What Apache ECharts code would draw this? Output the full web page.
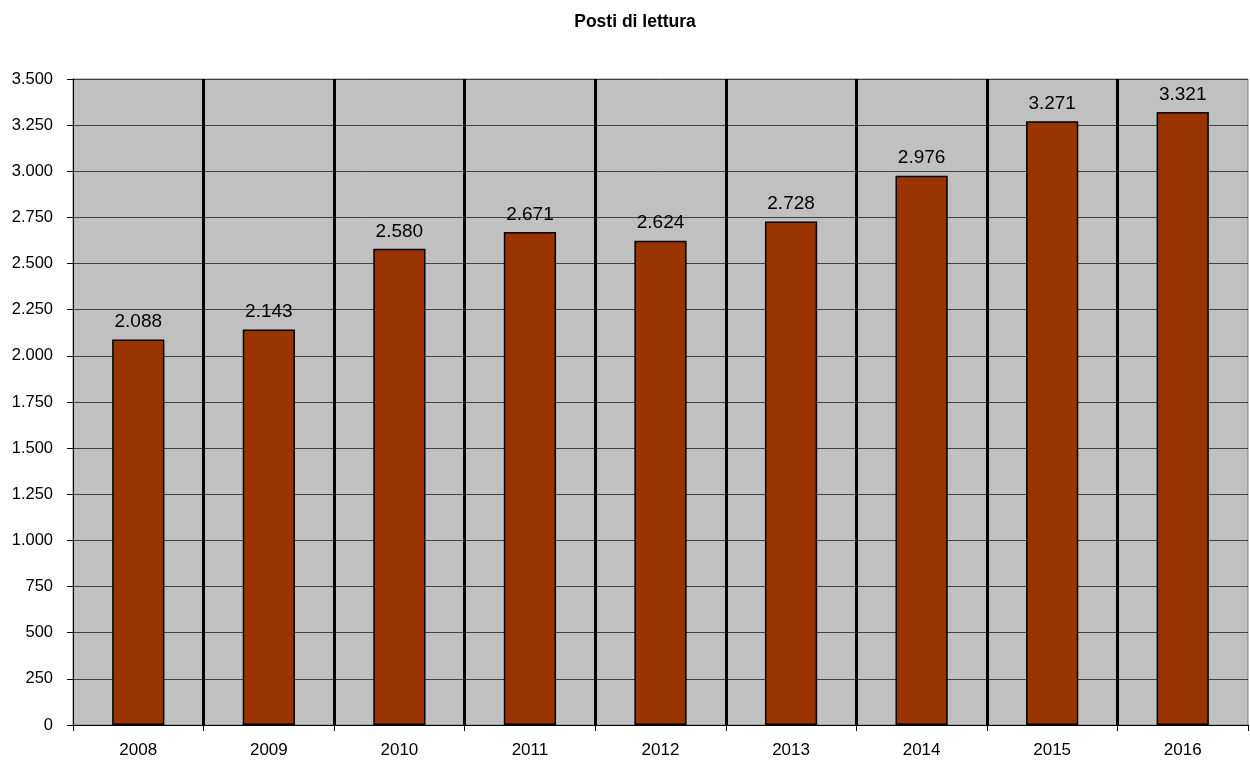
<!DOCTYPE html>
<html><head><meta charset="utf-8">
<script src="https://cdn.jsdelivr.net/npm/echarts@6/dist/echarts.min.js"></script>
<style>html,body{margin:0;padding:0;background:#fff}#c{width:1250px;height:760px}</style>
</head><body><div id="c"></div>
<script>
const categories = ['2008','2009','2010','2011','2012','2013','2014','2015','2016'];
const values = [2088, 2143, 2580, 2671, 2624, 2728, 2976, 3271, 3321];
const titleText = 'Posti di lettura';

function fmt(v){ return String(v).replace(/\B(?=(\d{3})+(?!\d))/g, '.'); }

const chart = echarts.init(document.getElementById('c'));
chart.setOption({
  animation: false,
  backgroundColor: '#ffffff',
  title: { text: titleText, left: 630, top: 8, textAlign: 'center',
    textStyle: { fontFamily: 'Liberation Sans, Arial', fontSize: 17.5, fontWeight: 'bold', color: '#000' } },
  grid: { left: 73, right: 2, top: 79, bottom: 35, show: true, backgroundColor: '#c0c0c0', borderColor: '#808080', borderWidth: 1 },
  xAxis: {
    type: 'category', data: categories,
    axisLine: { lineStyle: { color: '#000', width: 1 } },
    axisTick: { show: true, length: 6, lineStyle: { color: '#000' } },
    axisLabel: { fontFamily: 'Liberation Sans, Arial', fontSize: 17, color: '#000', margin: 17 },
    splitLine: { show: true, showMinLine: false, showMaxLine: false, lineStyle: { color: '#000', width: 3 } }
  },
  yAxis: {
    type: 'value', min: 0, max: 3500, interval: 250,
    axisLine: { show: true, lineStyle: { color: '#000', width: 1 } },
    axisTick: { show: true, length: 6, lineStyle: { color: '#000' } },
    axisLabel: { fontFamily: 'Liberation Sans, Arial', fontSize: 16.5, color: '#000', margin: 20, formatter: fmt },
    splitLine: { show: true, lineStyle: { color: '#404040', width: 1 } }
  },
  series: [{
    type: 'bar', data: values, barWidth: '40%',
    itemStyle: { color: '#993300', borderColor: '#000', borderWidth: 1.5 },
    label: { show: true, position: 'top', distance: 8, fontFamily: 'Liberation Sans, Arial', fontSize: 19, color: '#000', formatter: p => fmt(p.value) }
  }]
});
</script></body></html>
